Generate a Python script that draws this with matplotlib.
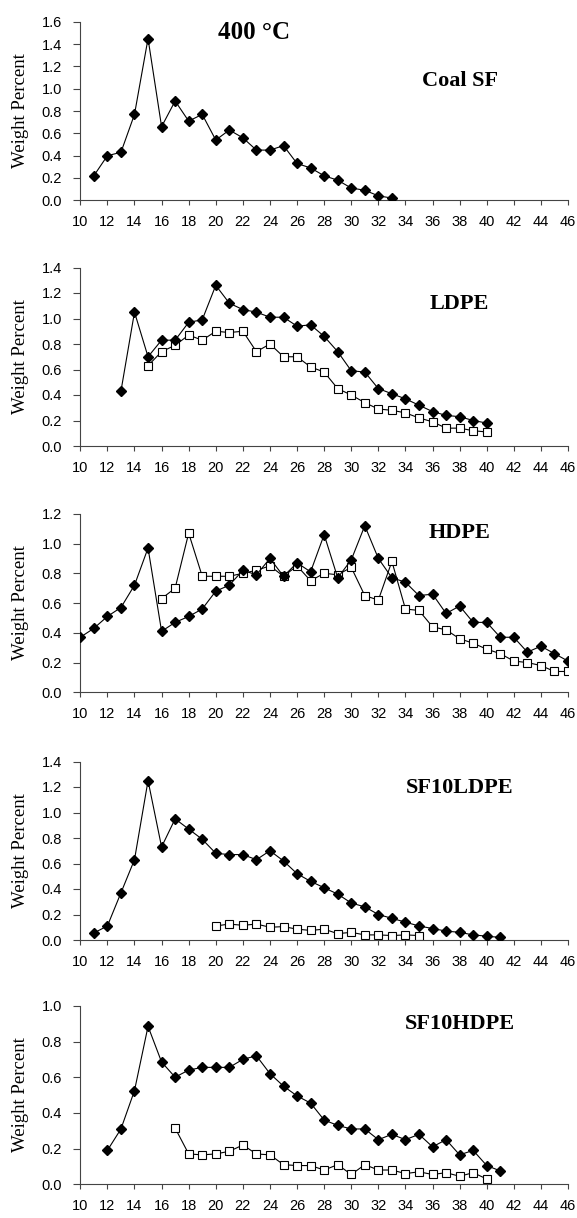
import numpy as np
import matplotlib
matplotlib.use("Agg")
from matplotlib import pyplot as plt

# carbon number axis
x_ticks = list(range(10, 47, 2))

# Coal SF
coal_x = list(range(11, 34))
coal_sf = [0.22, 0.40, 0.43, 0.77, 1.45, 0.66, 0.89, 0.71, 0.77, 0.54, 0.63, 0.56,
           0.45, 0.45, 0.49, 0.33, 0.29, 0.22, 0.18, 0.11, 0.09, 0.04, 0.02]

# LDPE
ldpe_d_x = list(range(13, 41))
ldpe_d = [0.43, 1.05, 0.70, 0.83, 0.83, 0.97, 0.99, 1.26, 1.12, 1.07, 1.05, 1.01,
          1.01, 0.94, 0.95, 0.86, 0.74, 0.59, 0.58, 0.45, 0.41, 0.37, 0.32, 0.27,
          0.24, 0.23, 0.20, 0.18]
ldpe_s_x = list(range(15, 41))
ldpe_s = [0.63, 0.74, 0.79, 0.87, 0.83, 0.90, 0.89, 0.90, 0.74, 0.80, 0.70, 0.70,
          0.62, 0.58, 0.45, 0.40, 0.34, 0.29, 0.28, 0.26, 0.22, 0.19, 0.14, 0.14,
          0.12, 0.11]

# HDPE
hdpe_d_x = list(range(10, 47))
hdpe_d = [0.37, 0.43, 0.51, 0.57, 0.72, 0.97, 0.41, 0.47, 0.51, 0.56, 0.68, 0.72,
          0.82, 0.79, 0.90, 0.78, 0.87, 0.81, 1.06, 0.77, 0.89, 1.12, 0.90, 0.77,
          0.74, 0.65, 0.66, 0.53, 0.58, 0.47, 0.47, 0.37, 0.37, 0.27, 0.31, 0.26,
          0.21]
hdpe_s_x = list(range(16, 47))
hdpe_s = [0.63, 0.70, 1.07, 0.78, 0.78, 0.78, 0.80, 0.82, 0.85, 0.78, 0.85, 0.75,
          0.80, 0.79, 0.84, 0.65, 0.62, 0.88, 0.56, 0.55, 0.44, 0.42, 0.36, 0.33,
          0.29, 0.26, 0.21, 0.20, 0.18, 0.14, 0.14]

# SF10LDPE
sfl_d_x = list(range(11, 42))
sfl_d = [0.055, 0.11, 0.37, 0.63, 1.25, 0.73, 0.95, 0.87, 0.79, 0.68, 0.67, 0.67,
         0.63, 0.70, 0.62, 0.52, 0.46, 0.41, 0.36, 0.29, 0.26, 0.20, 0.17, 0.14,
         0.11, 0.09, 0.07, 0.06, 0.04, 0.03, 0.02]
sfl_s_x = list(range(20, 36))
sfl_s = [0.11, 0.125, 0.115, 0.125, 0.10, 0.105, 0.085, 0.075, 0.085, 0.05, 0.06,
         0.04, 0.04, 0.035, 0.04, 0.035]

# SF10HDPE
sfh_d_x = list(range(12, 42))
sfh_d = [0.19, 0.31, 0.525, 0.885, 0.685, 0.60, 0.64, 0.655, 0.655, 0.655, 0.70,
         0.72, 0.62, 0.55, 0.495, 0.455, 0.36, 0.33, 0.31, 0.31, 0.25, 0.28, 0.25,
         0.28, 0.21, 0.25, 0.165, 0.19, 0.105, 0.075]
sfh_s_x = list(range(17, 41))
sfh_s = [0.315, 0.17, 0.165, 0.17, 0.185, 0.22, 0.17, 0.165, 0.11, 0.105, 0.105,
         0.08, 0.11, 0.055, 0.11, 0.08, 0.08, 0.06, 0.07, 0.055, 0.065, 0.045,
         0.065, 0.03]

panels = [
    ("Coal SF", 1.6, 1.07, [(coal_x, coal_sf, "D")]),
    ("LDPE", 1.4, 1.11, [(ldpe_s_x, ldpe_s, "s"), (ldpe_d_x, ldpe_d, "D")]),
    ("HDPE", 1.2, 1.07, [(hdpe_s_x, hdpe_s, "s"), (hdpe_d_x, hdpe_d, "D")]),
    ("SF10LDPE", 1.4, 1.19, [(sfl_s_x, sfl_s, "s"), (sfl_d_x, sfl_d, "D")]),
    ("SF10HDPE", 1.0, 0.90, [(sfh_s_x, sfh_s, "s"), (sfh_d_x, sfh_d, "D")]),
]

W, H = 577, 1218
fig = plt.figure(figsize=(W / 100, H / 100), dpi=100)

left_px, right_px = 80.3, 568.0
bottoms_px = [200.3, 446.0, 692.3, 940.0, 1184.3]
height_px = 178.5

for (name, ymax, label_y, series), b in zip(panels, bottoms_px):
    ax = fig.add_axes([left_px / W, 1 - b / H, (right_px - left_px) / W, height_px / H])
    for xs, ys, m in series:
        if m == "D":
            ax.plot(xs, ys, color="black", lw=0.8, marker="D", ms=4.9,
                    mfc="black", mec="black", zorder=3)
        else:
            ax.plot(xs, ys, color="black", lw=0.8, marker="s", ms=5.8,
                    mfc="white", mec="black", mew=0.8, zorder=2)
    ax.set_xlim(10, 46)
    ax.set_ylim(0, ymax)
    ax.set_xticks(x_ticks)
    ax.set_yticks(np.arange(0, ymax + 0.01, 0.2))
    ax.yaxis.set_major_formatter(matplotlib.ticker.FormatStrFormatter("%.1f"))
    for s in ["top", "right"]:
        ax.spines[s].set_visible(False)
    for s in ["left", "bottom"]:
        ax.spines[s].set_color("#444444")
        ax.spines[s].set_linewidth(0.8)
    ax.tick_params(axis="x", direction="out", length=3.5, width=0.8, color="#444444",
                   pad=7, labelsize=10.5)
    ax.tick_params(axis="y", direction="out", length=5, width=0.8, color="#444444",
                   pad=8, labelsize=10.5)
    for lab in ax.get_xticklabels() + ax.get_yticklabels():
        lab.set_fontfamily("Liberation Sans")
    ax.set_ylabel("Weight Percent", family="Liberation Serif", fontsize=13.5)
    ax.yaxis.set_label_coords(-0.105, 0.5)
    ax.text(38, label_y, name, ha="center", va="center", family="Liberation Serif",
            fontweight="bold", fontsize=16)
    if name == "Coal SF":
        ax.text(22.8, 1.50, "400 °C", ha="center", va="center",
                family="Liberation Serif", fontweight="bold", fontsize=18)

fig.savefig("out.png", dpi=100)
